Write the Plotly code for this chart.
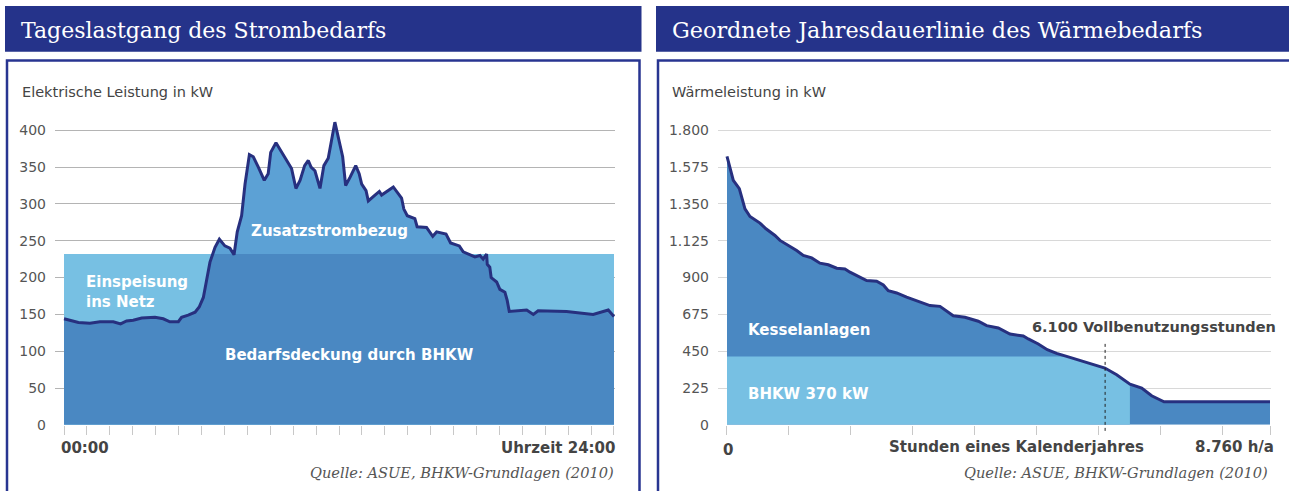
import plotly.graph_objects as go
import numpy as np

W = 1289
H_REF = 491      # reference picture height (design coordinates)
H_LAYOUT = 500   # layout height (capture is rescaled to the window height)

# ---------------- data: left chart (daily electric load) ----------------
load_hours = [0, 0.63, 1.13, 1.57, 2.15, 2.47, 2.73, 3.02, 3.39, 3.97, 4.33, 4.62, 4.99, 5.13,
              5.42, 5.72, 5.90, 6.08, 6.22, 6.37, 6.59, 6.78, 7.02, 7.24, 7.42, 7.56, 7.75, 7.90,
              8.09, 8.26, 8.48, 8.74, 8.91, 9.02, 9.25, 9.50, 9.93, 10.12, 10.30, 10.50, 10.66,
              10.78, 10.95, 11.17, 11.34, 11.53, 11.82, 12.16, 12.29, 12.48, 12.73, 12.88, 12.99,
              13.18, 13.28, 13.57, 13.76, 13.86, 14.37, 14.73, 14.83, 14.98, 15.31, 15.41, 15.82,
              16.09, 16.26, 16.67, 16.87, 17.25, 17.42, 17.93, 18.15, 18.29, 18.44, 18.47, 18.58,
              18.64, 18.88, 19.02, 19.24, 19.34, 19.43, 20.19, 20.48, 20.69, 21.93, 23.09, 23.75, 24.0]
load_kw = [144, 139, 138, 140, 140, 137, 141, 142, 145, 146, 144, 140, 140, 146,
           149, 153, 160, 173, 196, 221, 241, 252, 243, 240, 231, 262, 284, 327,
           367, 364, 350, 332, 341, 370, 383, 370, 348, 321, 332, 352, 359,
           350, 345, 321, 352, 362, 411, 364, 325, 336, 352, 341, 327,
           318, 304, 312, 317, 312, 323, 308, 293, 284, 280, 269, 268,
           256, 262, 259, 247, 243, 235, 228, 230, 225, 232, 218, 214,
           200, 194, 184, 180, 169, 154, 156, 150, 155, 154, 150, 156, 147]
bhkw_el_kw = 232
left_yticks = [0, 50, 100, 150, 200, 250, 300, 350, 400]
left_xticks = list(range(0, 25))

# ---------------- data: right chart (annual heat duration curve) ----------------
heat_hours = [0, 48, 102, 199, 237, 290, 371, 532, 629, 774, 855, 1016, 1124, 1231, 1366,
              1500, 1634, 1770, 1903, 1984, 2118, 2253, 2414, 2522, 2602, 2737, 2898, 3113,
              3274, 3436, 3516, 3650, 3839, 4054, 4189, 4377, 4565, 4780, 4861, 5022, 5167,
              5318, 5533, 5802, 6097, 6286, 6501, 6690, 6851, 7050, 8760]
heat_kw = [1641, 1575, 1494, 1443, 1392, 1320, 1273, 1233, 1198, 1157, 1127, 1090, 1065, 1035, 1020,
           988, 978, 957, 953, 933, 908, 882, 878, 855, 820, 806, 780, 753,
           729, 724, 702, 667, 657, 633, 606, 592, 555, 543, 525, 494, 459,
           437, 412, 381, 347, 306, 249, 225, 178, 141, 141]
bhkw_th_kw = 418
bhkw_end_hour = 6500
full_load_hours = 6100
right_yticks = [0, 225, 450, 675, 900, 1125, 1350, 1575, 1800]
right_yticktext = ["0", "225", "450", "675", "900", "1.125", "1.350", "1.575", "1.800"]
right_xticks = [0, 1000, 2000, 3000, 4000, 5000, 6000, 7000, 8000, 8760]

# ---------------- colours ----------------
NAVY = "#25338a"
LINE = "#27307f"
MID = "#4a88c2"
ZUS = "#5ca1d5"
LIGHT = "#77c0e3"
TXT = "#444444"
TICK = "#555555"


def clip_below(xs, ys, level):
    ox, oy = [], []
    for i in range(len(xs)):
        if i > 0:
            y0, y1 = ys[i - 1], ys[i]
            if (y0 - level) * (y1 - level) < 0:
                t = (level - y0) / (y1 - y0)
                ox.append(xs[i - 1] + t * (xs[i] - xs[i - 1]))
                oy.append(level)
        ox.append(xs[i])
        oy.append(min(ys[i], level))
    return ox, oy


def px(x):
    return x / W


def py(y):
    return 1 - y / H_REF


fig = go.Figure()

# ---- left chart traces ----
fig.add_trace(go.Scatter(x=[load_hours[0], load_hours[-1]], y=[bhkw_el_kw, bhkw_el_kw],
                         fill="tozeroy", fillcolor=LIGHT, mode="none", xaxis="x", yaxis="y"))
fig.add_trace(go.Scatter(x=load_hours, y=load_kw, fill="tozeroy", fillcolor=ZUS, mode="none",
                         xaxis="x", yaxis="y"))
cx, cy = clip_below(load_hours, load_kw, bhkw_el_kw)
fig.add_trace(go.Scatter(x=cx, y=cy, fill="tozeroy", fillcolor=MID, mode="none",
                         xaxis="x", yaxis="y"))
fig.add_trace(go.Scatter(x=load_hours, y=load_kw, mode="lines", line=dict(color=LINE, width=3),
                         xaxis="x", yaxis="y"))

# ---- right chart traces ----
fig.add_trace(go.Scatter(x=heat_hours, y=heat_kw, fill="tozeroy", fillcolor=MID, mode="none",
                         xaxis="x2", yaxis="y2"))
hx, hy = clip_below(heat_hours, heat_kw, bhkw_th_kw)
hx = np.array(hx)
hy = np.array(hy)
keep = hx < bhkw_end_hour
bx = list(hx[keep]) + [bhkw_end_hour]
by = list(hy[keep]) + [float(np.interp(bhkw_end_hour, hx, hy))]
fig.add_trace(go.Scatter(x=bx, y=by, fill="tozeroy", fillcolor=LIGHT, mode="none",
                         xaxis="x2", yaxis="y2"))
fig.add_trace(go.Scatter(x=heat_hours, y=heat_kw, mode="lines", line=dict(color=LINE, width=3),
                         xaxis="x2", yaxis="y2"))

# ---- axes ----
sans = "DejaVu Sans, Verdana, sans-serif"
serif = "DejaVu Serif, Georgia, serif"

common_y = dict(showgrid=True, zeroline=False, ticks="", ticklabelstandoff=8,
                tickfont=dict(family=sans, size=14, color=TICK), showline=False, fixedrange=True)
common_x = dict(showgrid=False, zeroline=False, showticklabels=False, ticks="outside",
                ticklen=9, tickwidth=1, tickcolor="#c8c8c8", showline=False, fixedrange=True)

fig.update_layout(
    xaxis=dict(domain=[px(55), px(615)], range=[-0.393, 24.044], tickmode="array",
               tickvals=left_xticks, anchor="y", **common_x),
    yaxis=dict(domain=[py(424), py(424 - 425 * 0.735)], range=[0, 425], tickmode="array",
               tickvals=left_yticks, gridcolor="#b4b4b4", anchor="x", **common_y),
    xaxis2=dict(domain=[px(718), px(1271)], range=[-145, 8776], tickmode="array",
                tickvals=right_xticks, anchor="y2", **common_x),
    yaxis2=dict(domain=[py(424), py(424 - 1850 * 0.16333)], range=[0, 1850], tickmode="array",
                tickvals=right_yticks, ticktext=right_yticktext, gridcolor="#d8d8d8",
                anchor="x2", **common_y),
)

# ---- shapes: title bars, boxes, dotted line ----
shapes = [
    dict(type="rect", xref="paper", yref="paper", x0=px(5), x1=px(641.5), y0=py(51.7), y1=py(6),
         fillcolor=NAVY, line=dict(width=0), layer="below"),
    dict(type="rect", xref="paper", yref="paper", x0=px(656), x1=px(1300), y0=py(51.7), y1=py(6),
         fillcolor=NAVY, line=dict(width=0), layer="below"),
    dict(type="rect", xref="paper", yref="paper", x0=px(7), x1=px(639.5), y0=py(540), y1=py(60.5),
         fillcolor="rgba(0,0,0,0)", line=dict(color="#283591", width=2.5), layer="above"),
    dict(type="rect", xref="paper", yref="paper", x0=px(658), x1=px(1320), y0=py(540), y1=py(60.5),
         fillcolor="rgba(0,0,0,0)", line=dict(color="#283591", width=2.5), layer="above"),
    dict(type="line", xref="x2", yref="paper", x0=full_load_hours, x1=full_load_hours,
         y0=py(430), y1=py(341.5), line=dict(color="#222222", width=1, dash="dot"), layer="above"),
]
fig.update_layout(shapes=shapes)


def ann(text, x, y, xanchor="left", size=15, color=TXT, bold=False, family=sans, italic=False,
        align="left"):
    return dict(text=text, x=px(x), y=py(y), xref="paper", yref="paper", xanchor=xanchor,
                yanchor="middle", showarrow=False, align=align,
                font=dict(family=family, size=size, color=color,
                          weight="bold" if bold else "normal",
                          style="italic" if italic else "normal"))


annotations = [
    # left
    ann("Tageslastgang des Strombedarfs", 19, 30, size=22, color="white", family=serif),
    ann("Elektrische Leistung in kW", 20, 92, size=14.5, color=TXT),
    ann("Zusatzstrombezug", 329, 231, xanchor="center", color="white", bold=True),
    ann("Einspeisung<br>ins Netz", 84, 291, color="white", bold=True),
    ann("Bedarfsdeckung durch BHKW", 349, 354, xanchor="center", color="white", bold=True),
    ann("00:00", 59, 447, bold=True),
    ann("Uhrzeit 24:00", 617, 447, xanchor="right", bold=True),
    ann("Quelle: ASUE, BHKW-Grundlagen (2010)", 616, 472, xanchor="right", size=14.6,
        color="#555555", family=serif, italic=True),
    # right
    ann("Geordnete Jahresdauerlinie des Wärmebedarfs", 670, 30, size=22.3, color="white", family=serif),
    ann("Wärmeleistung in kW", 670, 92, size=14.5, color=TXT),
    ann("Kesselanlagen", 746, 329, color="white", bold=True),
    ann("BHKW 370 kW", 746, 393, color="white", bold=True),
    ann("6.100 Vollbenutzungsstunden", 1278, 326, xanchor="right", size=14.5, bold=True),
    ann("0", 728, 449, xanchor="center", bold=True),
    ann("Stunden eines Kalenderjahres", 887, 446, bold=True),
    ann("8.760 h/a", 1276, 446, xanchor="right", bold=True),
    ann("Quelle: ASUE, BHKW-Grundlagen (2010)", 1270, 472, xanchor="right", size=14.6,
        color="#555555", family=serif, italic=True),
]
fig.update_layout(annotations=annotations)

fig.update_layout(width=W, height=H_LAYOUT, autosize=False, margin=dict(l=0, r=0, t=0, b=0),
                  showlegend=False, paper_bgcolor="white", plot_bgcolor="white", hovermode=False)

fig.write_html("out.html", config={"displayModeBar": False, "responsive": False},
               post_script="document.body.style.margin='0';document.body.style.overflow='hidden';")
